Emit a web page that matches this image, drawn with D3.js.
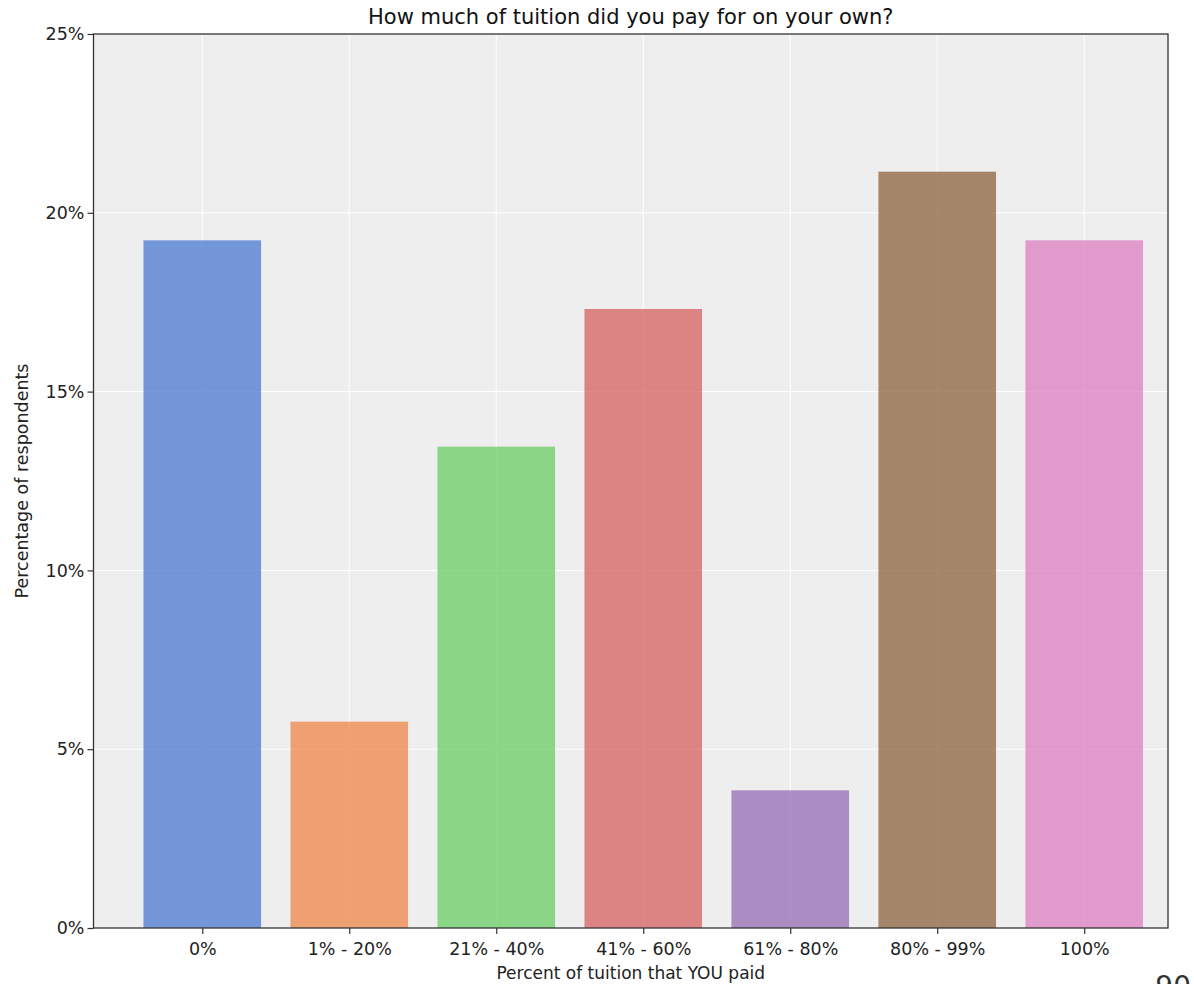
<!DOCTYPE html>
<html>
<head>
<meta charset="utf-8">
<script src="https://cdn.jsdelivr.net/npm/d3@7"></script>
<style>
  body { margin: 0; background: #fff; }
  svg { display: block; font-family: "DejaVu Sans", sans-serif; }
</style>
</head>
<body>
<script>
const width = 1194;
const height = 984;

// data
const categories = ["0%", "1% - 20%", "21% - 40%", "41% - 60%", "61% - 80%", "80% - 99%", "100%"];
const values = [19.23, 5.77, 13.46, 17.31, 3.85, 21.15, 19.23];
const colorList = ["#4878d0", "#ee854a", "#6acc64", "#d65f5f", "#956cb4", "#8c613c", "#dc7ec0"];
const yTicks = [0, 5, 10, 15, 20, 25];

const margin = {left: 93.5, right: 26, top: 34, bottom: 56};

let svg = d3.select("body").append("svg")
    .attr("width", width)
    .attr("height", height);

// x是连续刻度，跟 matplotlib 一样用索引
let x = d3.scaleLinear()
    .domain([-0.74, 6.57])
    .range([margin.left, width - margin.right]);

let y = d3.scaleLinear()
    .domain([0, 25])
    .range([height - margin.bottom, margin.top]);

const bw = x(0.4) - x(0);

// 背景
svg.append("rect")
    .attr("x", x.range()[0])
    .attr("y", y(25))
    .attr("width", x.range()[1] - x.range()[0])
    .attr("height", y(0) - y(25))
    .attr("fill", "#eeeeee");

// 网格
svg.append("g").selectAll("line")
    .data(yTicks)
    .enter().append("line")
    .attr("x1", x.range()[0]).attr("x2", x.range()[1])
    .attr("y1", d => y(d)).attr("y2", d => y(d))
    .attr("stroke", "#fff").attr("stroke-width", 1);

svg.append("g").selectAll("line")
    .data(categories)
    .enter().append("line")
    .attr("x1", (d, i) => x(i)).attr("x2", (d, i) => x(i))
    .attr("y1", y(0)).attr("y2", y(25))
    .attr("stroke", "#fff").attr("stroke-width", 1);

// 柱子
svg.append("g").selectAll("rect")
    .data(values)
    .enter().append("rect")
    .attr("x", (d, i) => x(i) - bw)
    .attr("width", bw * 2)
    .attr("y", d => y(d))
    .attr("height", d => y(0) - y(d))
    .attr("fill", (d, i) => colorList[i])
    .attr("fill-opacity", 0.75);

// 坐标轴
let xAxis = d3.axisBottom(x)
    .tickValues(d3.range(categories.length))
    .tickFormat(i => categories[i])
    .tickSize(6).tickSizeOuter(0);

let yAxis = d3.axisLeft(y)
    .tickValues(yTicks)
    .tickFormat(d => d + "%")
    .tickSize(6).tickSizeOuter(0);

let gx = svg.append("g")
    .attr("transform", `translate(0,${y(0)})`)
    .call(xAxis);
let gy = svg.append("g")
    .attr("transform", `translate(${x.range()[0]},0)`)
    .call(yAxis);

[gx, gy].forEach(g => {
    g.select(".domain").remove();
    g.selectAll(".tick line").attr("stroke", "#333").attr("stroke-width", 1.2);
    g.selectAll("text").attr("font-size", 17.5).attr("fill", "#222")
        .attr("font-family", "DejaVu Sans, sans-serif");
});
gx.selectAll("text").attr("dy", "1.0em");
gy.selectAll("text").attr("x", -9);

// 边框
svg.append("rect")
    .attr("x", x.range()[0])
    .attr("y", y(25))
    .attr("width", x.range()[1] - x.range()[0])
    .attr("height", y(0) - y(25))
    .attr("fill", "none")
    .attr("stroke", "#333")
    .attr("stroke-width", 1.3);

// 标题和轴标签
svg.append("text")
    .attr("x", (x.range()[0] + x.range()[1]) / 2)
    .attr("y", 24)
    .attr("text-anchor", "middle")
    .attr("font-size", 21)
    .attr("fill", "#111")
    .text("How much of tuition did you pay for on your own?");

svg.append("text")
    .attr("x", (x.range()[0] + x.range()[1]) / 2)
    .attr("y", 979)
    .attr("text-anchor", "middle")
    .attr("font-size", 17)
    .attr("fill", "#222")
    .text("Percent of tuition that YOU paid");

svg.append("text")
    .attr("transform", `translate(28,${(y(0) + y(25)) / 2}) rotate(-90)`)
    .attr("text-anchor", "middle")
    .attr("font-size", 17.5)
    .attr("fill", "#222")
    .text("Percentage of respondents");

// 右下角的页码
svg.append("text")
    .attr("x", 1191)
    .attr("y", 996)
    .attr("text-anchor", "end")
    .attr("font-size", 28)
    .attr("fill", "#333")
    .text("90");
</script>
</body>
</html>
